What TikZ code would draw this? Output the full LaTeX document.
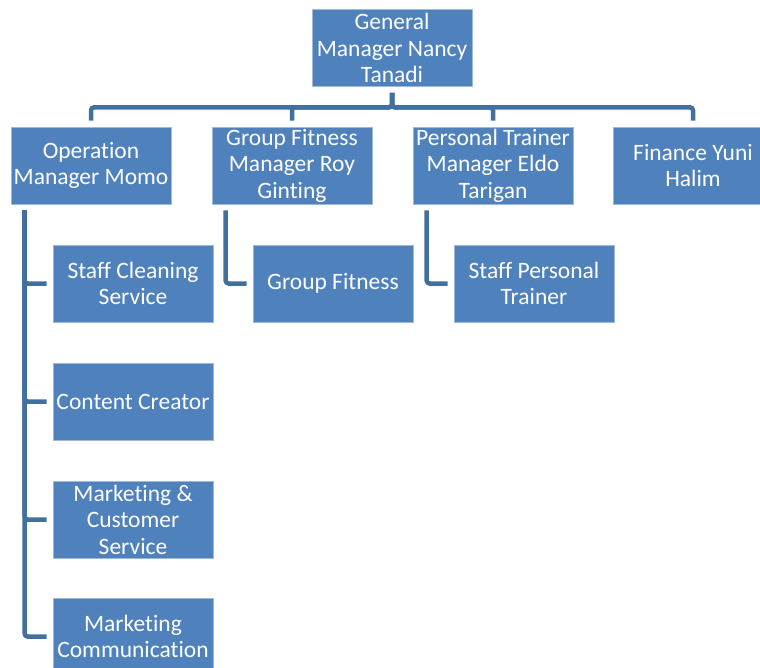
\documentclass[tikz,border=0pt]{standalone}
\usepackage{fontspec}
\setmainfont[Ligatures={CommonOff,ContextualOff,RareOff}]{Carlito}
\definecolor{boxblue}{HTML}{4F81BD}
\definecolor{linkblue}{HTML}{41709E}

\begin{document}
\begin{tikzpicture}[
        x=1pt, y=-1pt,
        unit box/.style={rectangle, fill=boxblue, draw=boxblue!55!white, line width=0.7pt,
          minimum width=160pt, minimum height=77pt, inner sep=0pt, align=center,
          text=white, font=\fontsize{23.5}{26.5}\selectfont},
        link/.style={draw=linkblue, line width=4.5pt, rounded corners=3pt,
          shorten <=6pt, shorten >=6pt}
      ]
      \useasboundingbox (0,0) rectangle (760,667);

      \node[unit box] (gm) at (392,48) {General\\Manager Nancy\\Tanadi};

      \node[unit box] (ops) at (91,165.5) {Operation\\Manager Momo};
      \node[unit box] (gfm) at (292,165.5) {Group Fitness\\Manager Roy\\Ginting};
      \node[unit box] (ptm) at (493,165.5) {Personal Trainer\\Manager Eldo\\Tarigan};
      \node[unit box] (fin) at (693,165.5) {Finance Yuni\\Halim};

      \node[unit box] (clean) at (133,283.5) {Staff Cleaning\\Service};
      \node[unit box] (content) at (133,401.5) {Content Creator};
      \node[unit box] (mcs) at (133,519.5) {Marketing \&\\Customer\\Service};
      \node[unit box] (mcom) at (133,636.5) {Marketing\\Communication};

      \node[unit box] (gfit) at (333,283.5) {Group Fitness};
      \node[unit box] (spt) at (534,283.5) {Staff Personal\\Trainer};

      \foreach \m in {ops,gfm,ptm,fin} {
          \draw[link] (gm.south) -- ++(0,20.5) -| (\m.north);
        }

      \foreach \c in {clean,content,mcs,mcom} {
          \draw[link] ([xshift=14pt]ops.south west) |- (\c.west);
        }

      \draw[link] ([xshift=14pt]gfm.south west) |- (gfit.west);
      \draw[link] ([xshift=14pt]ptm.south west) |- (spt.west);

    \end{tikzpicture}
\end{document}
